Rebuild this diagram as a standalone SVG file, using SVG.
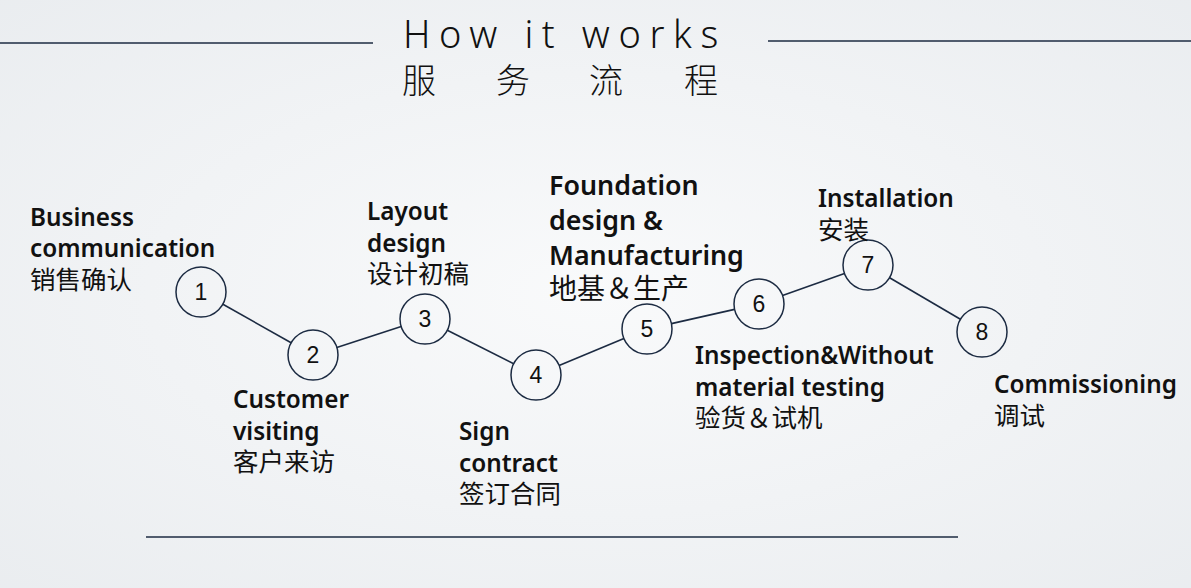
<svg xmlns="http://www.w3.org/2000/svg" width="1191" height="588" viewBox="0 0 1191 588">
<defs>
<radialGradient id="bg" cx="0.5" cy="0.5" r="0.75">
<stop offset="0" stop-color="#f9fafb"/>
<stop offset="1" stop-color="#e9ecef"/>
</radialGradient>
<style>
.rule{stroke:#1c2b42;stroke-width:1.5;fill:none}
.conn{stroke:#1c2b42;stroke-width:1.6;fill:none}
.node circle{stroke:#1c2b42;stroke-width:1.5;fill:none}
.num{font-family:"Liberation Sans","Noto Sans",sans-serif;font-size:23px;fill:#111;text-anchor:middle}
.en{font-family:"Noto Sans","Open Sans",sans-serif;font-weight:600;font-size:24.3px;fill:#111}
.en2{font-family:"Noto Sans","Open Sans",sans-serif;font-weight:600;font-size:26.8px;fill:#111}
.zh{font-family:"Noto Sans CJK SC",sans-serif;font-size:25.5px;fill:#111}
.zh2{font-family:"Noto Sans CJK SC",sans-serif;font-size:28px;fill:#111}
.title{font-family:"Noto Sans","Open Sans",sans-serif;font-weight:300;font-size:38px;fill:#111;letter-spacing:8.6px}
.tzh{font-family:"Noto Sans CJK SC",sans-serif;font-weight:300;font-size:34px;fill:#111}
</style>
</defs>
<rect width="1191" height="588" fill="url(#bg)"/>
<g id="title">
<line class="rule" x1="0" y1="43" x2="373" y2="43"/>
<line class="rule" x1="768" y1="41" x2="1191" y2="41"/>
<text class="title" x="403" y="48">How it works</text>
<text class="tzh" x="402 496 589 684" y="93">服务流程</text>
</g>
<line class="rule" x1="146" y1="537" x2="958" y2="537"/>
<g id="connectors">
<line class="conn" x1="222.9" y1="304.3" x2="291.1" y2="342.7"/>
<line class="conn" x1="336.8" y1="347.4" x2="401.2" y2="326.6"/>
<line class="conn" x1="447.3" y1="330.3" x2="513.7" y2="363.7"/>
<line class="conn" x1="559.1" y1="365.4" x2="623.9" y2="338.6"/>
<line class="conn" x1="671.4" y1="323.6" x2="734.6" y2="309.4"/>
<line class="conn" x1="782.5" y1="295.6" x2="844.5" y2="273.4"/>
<line class="conn" x1="889.6" y1="277.7" x2="960.4" y2="319.3"/>
</g>
<g id="node1" class="node"><circle cx="201" cy="292" r="25"/><text class="num" x="201" y="300">1</text>
<text class="en" x="30" y="226">Business</text><text class="en" x="30" y="257">communication</text><text class="zh" x="30" y="289">销售确认</text></g>
<g id="node2" class="node"><circle cx="313" cy="355" r="25"/><text class="num" x="313" y="363">2</text>
<text class="en" x="233" y="408">Customer</text><text class="en" x="233" y="440">visiting</text><text class="zh" x="233" y="471">客户来访</text></g>
<g id="node3" class="node"><circle cx="425" cy="319" r="25"/><text class="num" x="425" y="327">3</text>
<text class="en" x="367" y="220">Layout</text><text class="en" x="367" y="252">design</text><text class="zh" x="367" y="283">设计初稿</text></g>
<g id="node4" class="node"><circle cx="536" cy="375" r="25"/><text class="num" x="536" y="383">4</text>
<text class="en" x="459" y="440">Sign</text><text class="en" x="459" y="472">contract</text><text class="zh" x="459" y="503">签订合同</text></g>
<g id="node5" class="node"><circle cx="647" cy="329" r="25"/><text class="num" x="647" y="337">5</text>
<text class="en2" x="549" y="195">Foundation</text><text class="en2" x="549" y="230">design &amp;</text><text class="en2" x="549" y="265">Manufacturing</text><text class="zh2" x="549" y="299">地基＆生产</text></g>
<g id="node6" class="node"><circle cx="759" cy="304" r="25"/><text class="num" x="759" y="312">6</text>
<text class="en" x="695" y="364">Inspection&amp;Without</text><text class="en" x="695" y="396">material testing</text><text class="zh" x="695" y="427">验货＆试机</text></g>
<g id="node7" class="node"><circle cx="868" cy="265" r="25"/><text class="num" x="868" y="273">7</text>
<text class="en" x="818" y="207">Installation</text><text class="zh" x="818" y="239">安装</text></g>
<g id="node8" class="node"><circle cx="982" cy="332" r="25"/><text class="num" x="982" y="340">8</text>
<text class="en" x="994" y="393">Commissioning</text><text class="zh" x="994" y="425">调试</text></g>
</svg>
